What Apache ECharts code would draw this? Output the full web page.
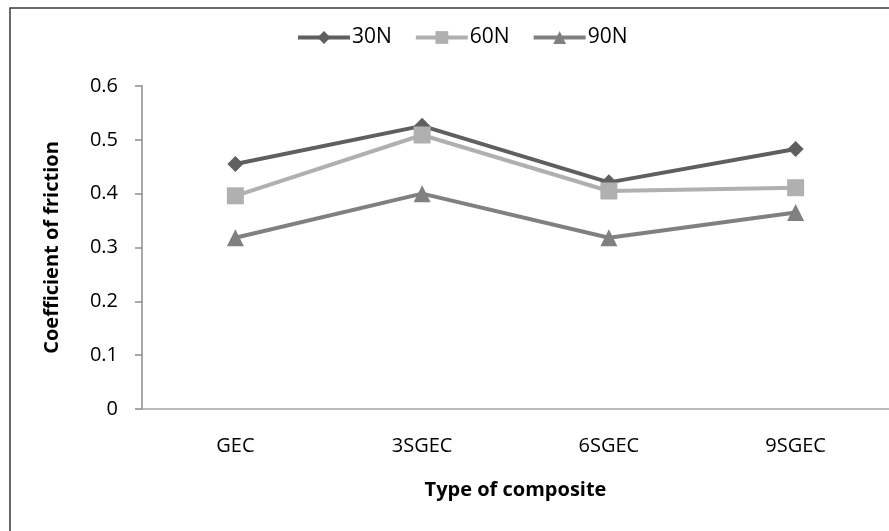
<!DOCTYPE html>
<html>
<head>
<meta charset="utf-8">
<script src="https://cdn.jsdelivr.net/npm/echarts@6/dist/echarts.min.js"></script>
<style>
  html, body { margin: 0; padding: 0; background: #fff; }
  #chart { width: 889px; height: 531px; }
</style>
</head>
<body>
<div id="chart"></div>
<script>
// categories on the x axis
const categories = ["GEC", "3SGEC", "6SGEC", "9SGEC"];
// coefficient of friction per load
const load30N = [0.455, 0.526, 0.421, 0.483];
const load60N = [0.396, 0.509, 0.405, 0.411];
const load90N = [0.318, 0.400, 0.318, 0.365];

const font = "'Open Sans', 'Noto Sans', sans-serif";

let myChart = echarts.init(document.getElementById("chart"));

function lineSeries(name, data, color, symbol, size) {
  return {
    name: name,
    type: "line",
    data: data,
    symbol: symbol,
    symbolSize: size,
    itemStyle: { color: color },
    lineStyle: { color: color, width: 4 },
    emphasis: { disabled: true },
    animation: false,
  };
}

myChart.setOption({
  backgroundColor: "#fff",
  animation: false,
  graphic: [
    {
      type: "rect",
      shape: { x: 10, y: 8, width: 900, height: 560 },
      style: { fill: "none", stroke: "#3a3a3a", lineWidth: 1.5 },
      silent: true,
    },
  ],
  legend: {
    top: 22,
    left: 291,
    itemWidth: 52,
    itemHeight: 16,
    itemGap: 22,
    lineStyle: { width: 4 },
    textStyle: { fontFamily: font, fontSize: 21, color: "#000", padding: [0, 0, 0, -3] },
    data: ["30N", "60N", "90N"],
  },
  grid: {
    left: 142,
    right: 0,
    top: 86,
    bottom: 122,
  },
  xAxis: {
    type: "category",
    data: categories,
    boundaryGap: true,
    name: "Type of composite",
    nameLocation: "middle",
    nameGap: 71,
    nameTextStyle: { fontFamily: font, fontSize: 20, fontWeight: "bold", color: "#000" },
    axisLine: { lineStyle: { color: "#a6a6a6", width: 1.5 } },
    axisTick: { alignWithLabel: true, length: 7, lineStyle: { color: "#a6a6a6", width: 1.5 } },
    axisLabel: { fontFamily: font, fontSize: 20, color: "#000", margin: 27 },
  },
  yAxis: {
    type: "value",
    min: 0,
    max: 0.6,
    interval: 0.1,
    name: "Coefficient of friction",
    nameLocation: "middle",
    nameGap: 80,
    nameTextStyle: { fontFamily: font, fontSize: 20, fontWeight: "bold", color: "#000" },
    axisLine: { show: true, lineStyle: { color: "#8c8c8c", width: 1.5 } },
    axisTick: { show: true, length: 7, lineStyle: { color: "#8c8c8c", width: 1.5 } },
    axisLabel: {
      fontFamily: font,
      fontSize: 20,
      color: "#000",
      margin: 24,
      formatter: function (v) { return Math.round(v * 10) / 10 + ""; },
    },
    splitLine: { show: false },
  },
  series: [
    lineSeries("30N", load30N, "#5f5f5f", "diamond", 16),
    lineSeries("60N", load60N, "#b0b0b0", "rect", 17),
    lineSeries("90N", load90N, "#808080", "triangle", 17),
  ],
});
</script>
</body>
</html>
